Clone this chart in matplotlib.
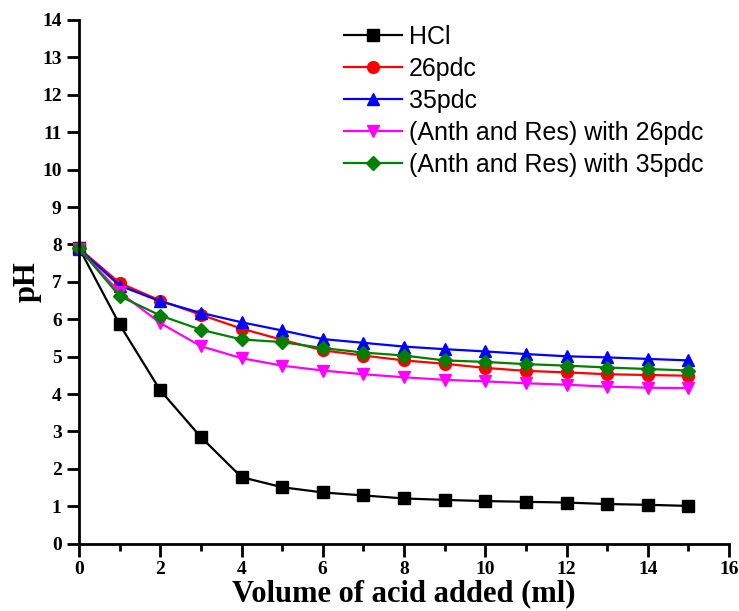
import matplotlib
matplotlib.use("Agg")
import matplotlib.pyplot as plt
from matplotlib.ticker import MultipleLocator

# volume of acid added (ml)
volume = [0, 1, 2, 3, 4, 5, 6, 7, 8, 9, 10, 11, 12, 13, 14, 15]

# pH readings
ph_hcl = [7.91, 5.86, 4.10, 2.85, 1.78, 1.51, 1.37, 1.29, 1.21, 1.17, 1.14, 1.12, 1.10, 1.06, 1.04, 1.01]
ph_26pdc = [7.90, 6.97, 6.50, 6.12, 5.75, 5.45, 5.17, 5.03, 4.90, 4.81, 4.70, 4.62, 4.58, 4.53, 4.51, 4.49]
ph_35pdc = [7.88, 6.90, 6.48, 6.17, 5.92, 5.70, 5.47, 5.37, 5.27, 5.20, 5.14, 5.07, 5.01, 4.98, 4.94, 4.90]
ph_anth_26 = [7.88, 6.72, 5.90, 5.28, 4.96, 4.76, 4.63, 4.53, 4.45, 4.38, 4.34, 4.29, 4.25, 4.20, 4.17, 4.16]
ph_anth_35 = [7.90, 6.62, 6.10, 5.72, 5.46, 5.39, 5.23, 5.11, 5.03, 4.90, 4.86, 4.80, 4.76, 4.71, 4.67, 4.63]

series = [
    ("HCl", ph_hcl, "black", "s"),
    ("26pdc", ph_26pdc, "red", "o"),
    ("35pdc", ph_35pdc, "blue", "^"),
    ("(Anth and Res) with 26pdc", ph_anth_26, "magenta", "v"),
    ("(Anth and Res) with 35pdc", ph_anth_35, "green", "D"),
]

fig = plt.figure(figsize=(7.39, 6.11), dpi=100)
ax = fig.add_axes([79 / 739, 1 - 543.7 / 611, 650 / 739, 523.7 / 611])

for label, vals, color, marker in series:
    ms = 7 if marker == "D" else 8.5
    ax.plot(volume, vals, color=color, marker=marker, markersize=ms,
            linewidth=1.6, label=label, clip_on=False)

ax.set_xlim(0, 16)
ax.set_ylim(0, 14)
ax.xaxis.set_major_locator(MultipleLocator(2))
ax.xaxis.set_minor_locator(MultipleLocator(1))
ax.yaxis.set_major_locator(MultipleLocator(1))

for side in ("top", "right"):
    ax.spines[side].set_visible(False)
for side in ("left", "bottom"):
    ax.spines[side].set_linewidth(2)

ax.tick_params(axis="both", which="major", direction="out", length=9, width=2)
ax.tick_params(axis="x", which="minor", direction="out", length=5, width=2)
for lbl in ax.get_xticklabels() + ax.get_yticklabels():
    lbl.set_family("Liberation Serif")
    lbl.set_fontweight("bold")
    lbl.set_fontsize(14)

ax.set_xlabel("Volume of acid added (ml)", family="Liberation Serif",
              fontweight="bold", fontsize=22, labelpad=1)
ax.set_ylabel("pH", family="Liberation Serif", fontweight="bold",
              fontsize=22, labelpad=0)

ax.legend(loc="upper left", bbox_to_anchor=(0.408, 0.99), borderaxespad=0,
          frameon=False, prop={"family": "Liberation Sans", "size": 18},
          handlelength=2.3, handletextpad=0.3, labelspacing=0.32, borderpad=0)

fig.savefig("out.png", dpi=100)
